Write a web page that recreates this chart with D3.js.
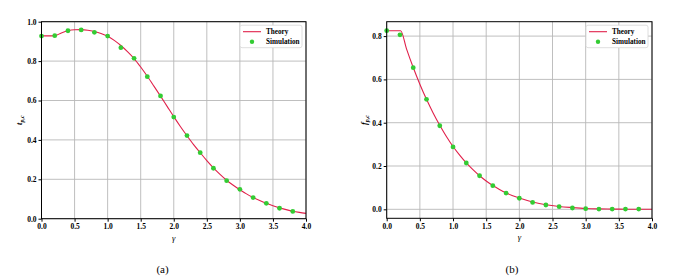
<!DOCTYPE html>
<html>
<head>
<meta charset="utf-8">
<script src="https://cdn.jsdelivr.net/npm/d3@7"></script>
<style>
  body { margin: 0; background: #fff; }
  svg text { font-family: "Liberation Serif", "DejaVu Serif", serif; }
  .tick text { font-size: 7.5px; font-weight: bold; fill: #000; }
</style>
</head>
<body>
<svg id="chart" width="681" height="279"></svg>
<script>
// panel (a): theory curve and simulation points
const theoryAX = [0, 0.1, 0.2, 0.3, 0.4, 0.5, 0.6, 0.7, 0.8, 0.9, 1.0, 1.1, 1.2, 1.3, 1.4, 1.5, 1.6, 1.7, 1.8, 1.9, 2.0,
  2.1, 2.2, 2.3, 2.4, 2.5, 2.6, 2.7, 2.8, 2.9, 3.0, 3.1, 3.2, 3.3, 3.4, 3.5, 3.6, 3.7, 3.8, 3.9, 4.0];
const theoryAY = [0.928, 0.928, 0.929, 0.943, 0.954, 0.959, 0.960, 0.957, 0.950, 0.940, 0.926, 0.905, 0.879, 0.848, 0.813,
  0.770, 0.723, 0.673, 0.622, 0.570, 0.518, 0.468, 0.421, 0.376, 0.335, 0.295, 0.258, 0.225, 0.195, 0.170, 0.147,
  0.126, 0.108, 0.092, 0.078, 0.066, 0.055, 0.046, 0.038, 0.032, 0.027];
const simAX = [0, 0.2, 0.4, 0.6, 0.8, 1.0, 1.2, 1.4, 1.6, 1.8, 2.0, 2.2, 2.4, 2.6, 2.8, 3.0, 3.2, 3.4, 3.6, 3.8];
const simAY = [0.927, 0.929, 0.954, 0.958, 0.946, 0.927, 0.868, 0.814, 0.721, 0.623, 0.516, 0.422, 0.335, 0.256,
  0.193, 0.149, 0.107, 0.078, 0.053, 0.037];

// panel (b)
const theoryBX = [0, 0.1, 0.2, 0.21, 0.3, 0.4, 0.5, 0.6, 0.7, 0.8, 0.9, 1.0, 1.1, 1.2, 1.3, 1.4, 1.5, 1.6, 1.7, 1.8,
  1.9, 2.0, 2.2, 2.4, 2.6, 2.8, 3.0, 3.2, 3.4, 3.6, 3.8, 4.0];
const theoryBY = [0.825, 0.825, 0.825, 0.825, 0.740, 0.655, 0.578, 0.508, 0.445, 0.388, 0.336, 0.290, 0.250, 0.214,
  0.183, 0.155, 0.131, 0.110, 0.092, 0.076, 0.063, 0.052, 0.034, 0.021, 0.013, 0.008, 0.004, 0.002, 0.001, 0.0005,
  0.0002, 0.0001];
const simBX = [0, 0.2, 0.4, 0.6, 0.8, 1.0, 1.2, 1.4, 1.6, 1.8, 2.0, 2.2, 2.4, 2.6, 2.8, 3.0, 3.2, 3.4, 3.6, 3.8];
const simBY = [0.825, 0.806, 0.654, 0.508, 0.386, 0.288, 0.214, 0.155, 0.109, 0.075, 0.051, 0.032, 0.020, 0.012,
  0.006, 0.003, 0.001, 0.001, 0.001, 0.001];

const xTicks = [0, 0.5, 1.0, 1.5, 2.0, 2.5, 3.0, 3.5, 4.0];
const yTicksA = [0, 0.2, 0.4, 0.6, 0.8, 1.0];
const yTicksB = [0, 0.2, 0.4, 0.6, 0.8];
const legendLabels = ['Theory', 'Simulation'];

const lineColor = '#e0204a';
const dotColor = '#33cc33';

const svg = d3.select('#chart');

function drawPanel(cfg) {
  const g = svg.append('g');
  const x = d3.scaleLinear().domain([0, 4]).range([cfg.left, cfg.right]);
  const y = d3.scaleLinear().domain(cfg.yDomain).range([cfg.bottom, cfg.top]);

  // grid
  g.append('g').selectAll('line.vg').data(xTicks).join('line')
    .attr('x1', d => x(d)).attr('x2', d => x(d))
    .attr('y1', cfg.top).attr('y2', cfg.bottom)
    .attr('stroke', '#b8b8b8').attr('stroke-width', 0.9);
  g.append('g').selectAll('line.hg').data(cfg.yTicks).join('line')
    .attr('x1', cfg.left).attr('x2', cfg.right)
    .attr('y1', d => y(d)).attr('y2', d => y(d))
    .attr('stroke', '#b8b8b8').attr('stroke-width', 0.9);

  // theory line
  const pts = cfg.tx.map((v, i) => [v, cfg.ty[i]]);
  g.append('path').datum(pts)
    .attr('fill', 'none').attr('stroke', lineColor).attr('stroke-width', 1.1)
    .attr('d', d3.line().x(d => x(d[0])).y(d => y(d[1])).curve(d3.curveMonotoneX));

  // simulation
  const sims = cfg.sx.map((v, i) => [v, cfg.sy[i]]);
  g.append('g').selectAll('circle').data(sims).join('circle')
    .attr('cx', d => x(d[0])).attr('cy', d => y(d[1])).attr('r', 2.4)
    .attr('fill', dotColor);

  // frame
  g.append('rect').attr('x', cfg.left).attr('y', cfg.top)
    .attr('width', cfg.right - cfg.left).attr('height', cfg.bottom - cfg.top)
    .attr('fill', 'none').attr('stroke', '#000').attr('stroke-width', 1);

  // axes
  const xAxis = g.append('g').attr('transform', `translate(0,${cfg.bottom})`)
    .call(d3.axisBottom(x).tickValues(xTicks).tickFormat(d3.format('.1f')).tickSizeOuter(0).tickSize(3).tickPadding(2));
  xAxis.select('.domain').remove();
  const yAxis = g.append('g').attr('transform', `translate(${cfg.left},0)`)
    .call(d3.axisLeft(y).tickValues(cfg.yTicks).tickFormat(d3.format('.1f')).tickSizeOuter(0).tickSize(3).tickPadding(2));
  yAxis.select('.domain').remove();

  // axis labels
  g.append('text').attr('x', (cfg.left + cfg.right) / 2).attr('y', cfg.bottom + 22)
    .attr('text-anchor', 'middle').attr('font-size', 8.5).attr('font-style', 'italic')
    .text('γ');
  const yl = g.append('text')
    .attr('transform', `translate(${cfg.left - 20},${(cfg.top + cfg.bottom) / 2}) rotate(-90)`)
    .attr('text-anchor', 'middle').attr('font-size', 8.5).attr('font-weight', 'bold');
  yl.append('tspan').attr('font-style', 'italic').text(cfg.yLabel);
  yl.append('tspan').attr('font-size', 6).attr('dy', 2).attr('font-style', 'italic').text('p,c');

  // legend
  const lg = g.append('g').attr('transform', `translate(${cfg.right - 66},${cfg.top + 3.5})`);
  lg.append('rect').attr('width', 62).attr('height', 22.5).attr('rx', 2)
    .attr('fill', '#fff').attr('stroke', '#d6d6d6').attr('stroke-width', 0.8);
  lg.append('line').attr('x1', 3).attr('x2', 21).attr('y1', 6.5).attr('y2', 6.5)
    .attr('stroke', lineColor).attr('stroke-width', 1.1);
  lg.append('circle').attr('cx', 12).attr('cy', 16.5).attr('r', 2.2).attr('fill', dotColor);
  lg.selectAll('text').data(legendLabels).join('text')
    .attr('x', 26).attr('y', (d, i) => 9 + i * 10)
    .attr('font-size', 7.2).attr('font-weight', 'bold').text(d => d);

  // caption
  svg.append('text').attr('x', cfg.caption).attr('y', 273)
    .attr('text-anchor', 'middle').attr('font-size', 11).text(cfg.captionText);
}

drawPanel({
  left: 41.5, right: 306, top: 21.7, bottom: 218.7, yDomain: [0, 1], yTicks: yTicksA,
  tx: theoryAX, ty: theoryAY, sx: simAX, sy: simAY, yLabel: 't', caption: 162.5, captionText: '(a)'
});
drawPanel({
  left: 386.7, right: 652, top: 21.7, bottom: 218.3, yDomain: [-0.0415, 0.8665], yTicks: yTicksB,
  tx: theoryBX, ty: theoryBY, sx: simBX, sy: simBY, yLabel: 'f', caption: 512, captionText: '(b)'
});
</script>
</body>
</html>
